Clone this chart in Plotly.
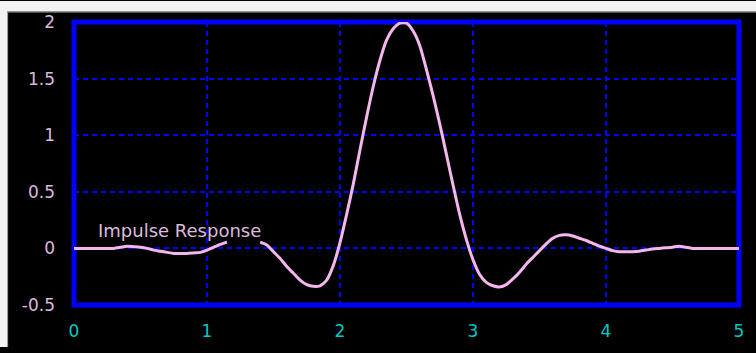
import plotly.graph_objects as go

# Impulse response samples (time, amplitude); None marks the break beside the label
t = [0.00, 0.10, 0.20, 0.30, 0.35, 0.40, 0.45, 0.50, 0.55, 0.60, 0.65, 0.70,
     0.75, 0.80, 0.85, 0.90, 0.95, 1.00, 1.05, 1.10, 1.15, 1.27,
     1.40, 1.45, 1.50, 1.55, 1.60, 1.65, 1.70, 1.75, 1.80, 1.85, 1.90, 1.95,
     2.00, 2.05, 2.10, 2.15, 2.20, 2.25, 2.30, 2.35, 2.40, 2.45, 2.50, 2.55,
     2.60, 2.65, 2.70, 2.75, 2.80, 2.85, 2.90, 2.95, 3.00, 3.05, 3.10, 3.15,
     3.20, 3.25, 3.30, 3.35, 3.40, 3.45, 3.50, 3.55, 3.60, 3.65, 3.70, 3.75,
     3.80, 3.85, 3.90, 3.95, 4.00, 4.05, 4.10, 4.15, 4.20, 4.25, 4.30, 4.35,
     4.40, 4.45, 4.50, 4.55, 4.60, 4.65, 4.80, 5.00]
amplitude = [0.00, 0.00, 0.00, 0.00, 0.01, 0.02, 0.015, 0.01, 0.00, -0.015, -0.025, -0.035,
             -0.045, -0.045, -0.045, -0.04, -0.035, -0.015, 0.01, 0.035, 0.055, None,
             0.055, 0.03, -0.03, -0.09, -0.16, -0.22, -0.28, -0.32, -0.335, -0.33, -0.28, -0.15,
             0.05, 0.30, 0.57, 0.87, 1.16, 1.43, 1.66, 1.84, 1.94, 1.99, 1.99, 1.92,
             1.79, 1.58, 1.35, 1.10, 0.83, 0.56, 0.30, 0.08, -0.10, -0.23, -0.30, -0.33,
             -0.34, -0.32, -0.27, -0.21, -0.14, -0.08, -0.02, 0.04, 0.09, 0.115, 0.12, 0.11,
             0.09, 0.07, 0.045, 0.02, 0.00, -0.02, -0.03, -0.03, -0.03, -0.025, -0.015, -0.005,
             0.00, 0.005, 0.01, 0.02, 0.01, 0.00, 0.00, 0.00]

x_ticks = [0, 1, 2, 3, 4, 5]
y_ticks = [-0.5, 0, 0.5, 1, 1.5, 2]
y_tick_text = ["-0.5", "0", "0.5", "1", "1.5", "2"]
label_text = "Impulse Response"
label_pos = (0.79, 0.16)

fig = go.Figure()
fig.add_trace(go.Scatter(
    x=t, y=amplitude, mode="lines", connectgaps=False,
    line=dict(color="#f5b6ee", width=3, shape="spline", smoothing=0.6),
    hoverinfo="skip", showlegend=False,
))

fig.add_annotation(
    x=label_pos[0], y=label_pos[1], text=label_text, showarrow=False,
    xanchor="center", yanchor="middle",
    font=dict(family="DejaVu Sans", size=18, color="#dcbcdc"),
)

L, R, T, B = 74, 16, 17, 39
W, H = 756, 353
pw, ph = W - L - R, H - T - B

def px_x(p):
    return (p - L) / pw

def px_y(p):
    return (H - B - p) / ph

shapes = [
    # light page edge strips along top and left
    dict(type="rect", xref="paper", yref="paper",
         x0=px_x(-5), x1=px_x(W + 5), y0=px_y(6), y1=px_y(-5),
         fillcolor="#f2f2f2", line=dict(width=0), layer="below"),
    dict(type="rect", xref="paper", yref="paper",
         x0=px_x(-5), x1=px_x(7), y0=px_y(H + 5), y1=px_y(-5),
         fillcolor="#f2f2f2", line=dict(width=0), layer="below"),
    dict(type="line", xref="paper", yref="paper",
         x0=px_x(7), x1=px_x(W + 5), y0=px_y(6.5), y1=px_y(6.5),
         line=dict(color="#a8a8a8", width=1), layer="below"),
    dict(type="line", xref="paper", yref="paper",
         x0=px_x(7.5), x1=px_x(7.5), y0=px_y(H + 5), y1=px_y(6.5),
         line=dict(color="#a8a8a8", width=1), layer="below"),
    # thick blue frame around the plot area
    dict(type="rect", xref="paper", yref="paper", x0=0, x1=1, y0=0, y1=1,
         line=dict(color="#0000ff", width=5), fillcolor="rgba(0,0,0,0)", layer="below"),
]

fig.update_layout(
    width=W, height=H,
    margin=dict(l=L, r=R, t=T, b=B, pad=0),
    paper_bgcolor="black", plot_bgcolor="black",
    shapes=shapes,
    xaxis=dict(
        range=[0, 5], tickvals=x_ticks, ticktext=[str(v) for v in x_ticks],
        showgrid=True, gridcolor="#0000ff", gridwidth=2, griddash="5px,4px",
        zeroline=False, showline=False, ticks="",
        tickfont=dict(family="DejaVu Sans", size=17, color="#00c8c8"),
        ticklabelstandoff=14, fixedrange=True,
    ),
    yaxis=dict(
        range=[-0.5, 2], tickvals=y_ticks, ticktext=y_tick_text,
        showgrid=True, gridcolor="#0000ff", gridwidth=2, griddash="5px,4px",
        zeroline=False, showline=False, ticks="",
        tickfont=dict(family="DejaVu Sans", size=17, color="#dcb8dc"),
        ticklabelstandoff=18, fixedrange=True,
    ),
)

fig.write_html("out.html", config={"displayModeBar": False})
